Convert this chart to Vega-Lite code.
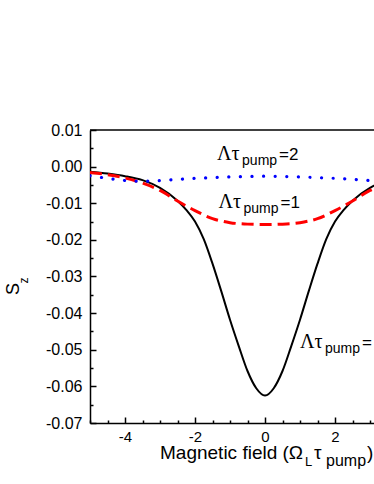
{
  "$schema": "https://vega.github.io/schema/vega-lite/v6.json",
  "width": 284,
  "height": 293,
  "autosize": {"type": "none"},
  "padding": {"left": 90, "top": 130, "right": 0, "bottom": 61},
  "background": "white",
  "config": {"view": {"stroke": null}, "font": "Liberation Sans"},
  "datasets": {
    "curves": [
      {"x": -5, "y": -0.0014, "s": "k"}, {"x": -4.5, "y": -0.0019, "s": "k"}, {"x": -4, "y": -0.0026, "s": "k"},
      {"x": -3.5, "y": -0.0037, "s": "k"}, {"x": -3, "y": -0.0058, "s": "k"}, {"x": -2.5, "y": -0.0093, "s": "k"},
      {"x": -2.25, "y": -0.0118, "s": "k"}, {"x": -2, "y": -0.015, "s": "k"}, {"x": -1.75, "y": -0.0198, "s": "k"},
      {"x": -1.5, "y": -0.0265, "s": "k"}, {"x": -1.25, "y": -0.034, "s": "k"}, {"x": -1, "y": -0.0418, "s": "k"},
      {"x": -0.75, "y": -0.049, "s": "k"}, {"x": -0.5, "y": -0.0558, "s": "k"}, {"x": -0.25, "y": -0.0605, "s": "k"},
      {"x": 0, "y": -0.0625, "s": "k"}, {"x": 0.25, "y": -0.0605, "s": "k"}, {"x": 0.5, "y": -0.0558, "s": "k"},
      {"x": 0.75, "y": -0.049, "s": "k"}, {"x": 1, "y": -0.0418, "s": "k"}, {"x": 1.25, "y": -0.034, "s": "k"},
      {"x": 1.5, "y": -0.0265, "s": "k"}, {"x": 1.75, "y": -0.0198, "s": "k"}, {"x": 2, "y": -0.015, "s": "k"},
      {"x": 2.25, "y": -0.0118, "s": "k"}, {"x": 2.5, "y": -0.0093, "s": "k"}, {"x": 3, "y": -0.0058, "s": "k"},
      {"x": 3.5, "y": -0.0037, "s": "k"}, {"x": 4, "y": -0.0026, "s": "k"}, {"x": 4.5, "y": -0.0019, "s": "k"},
      {"x": 5, "y": -0.0014, "s": "k"},
      {"x": -5, "y": -0.0016, "s": "r"}, {"x": -4.5, "y": -0.0022, "s": "r"}, {"x": -4, "y": -0.0031, "s": "r"},
      {"x": -3.5, "y": -0.0045, "s": "r"}, {"x": -3, "y": -0.0065, "s": "r"}, {"x": -2.5, "y": -0.0094, "s": "r"},
      {"x": -2, "y": -0.012, "s": "r"}, {"x": -1.5, "y": -0.0142, "s": "r"}, {"x": -1, "y": -0.0153, "s": "r"},
      {"x": -0.5, "y": -0.0157, "s": "r"}, {"x": 0, "y": -0.0158, "s": "r"}, {"x": 0.5, "y": -0.0157, "s": "r"},
      {"x": 1, "y": -0.0153, "s": "r"}, {"x": 1.5, "y": -0.0142, "s": "r"}, {"x": 2, "y": -0.012, "s": "r"},
      {"x": 2.5, "y": -0.0094, "s": "r"}, {"x": 3, "y": -0.0065, "s": "r"}, {"x": 3.5, "y": -0.0045, "s": "r"},
      {"x": 4, "y": -0.0031, "s": "r"},
      {"x": -5, "y": -0.0025, "s": "b"}, {"x": -4.5, "y": -0.0032, "s": "b"}, {"x": -4, "y": -0.0038, "s": "b"},
      {"x": -3.5, "y": -0.004, "s": "b"}, {"x": -3, "y": -0.0038, "s": "b"}, {"x": -2.5, "y": -0.0035, "s": "b"},
      {"x": -2, "y": -0.0032, "s": "b"}, {"x": -1.5, "y": -0.003, "s": "b"}, {"x": -1, "y": -0.0028, "s": "b"},
      {"x": -0.5, "y": -0.0027, "s": "b"}, {"x": 0, "y": -0.0026, "s": "b"}, {"x": 0.5, "y": -0.0027, "s": "b"},
      {"x": 1, "y": -0.0028, "s": "b"}, {"x": 1.5, "y": -0.003, "s": "b"}, {"x": 2, "y": -0.0032, "s": "b"},
      {"x": 2.5, "y": -0.0035, "s": "b"}, {"x": 3, "y": -0.0038, "s": "b"}, {"x": 3.5, "y": -0.004, "s": "b"},
      {"x": 4, "y": -0.0038, "s": "b"}
    ],
    "labels": [
      {"x": -1.37, "y": 0.0018, "eq": "=2"},
      {"x": -1.33, "y": -0.0113, "eq": "=1"},
      {"x": 1.0, "y": -0.0494, "eq": "="}
    ]
  },
  "layer": [
    {
      "data": {"name": "curves"},
      "transform": [{"filter": "datum.s == 'k'"}],
      "mark": {"type": "line", "color": "black", "strokeWidth": 2, "interpolate": "monotone", "clip": true},
      "encoding": {
        "x": {"field": "x", "type": "quantitative",
          "scale": {"domain": [-5, 3.114], "nice": false, "zero": false},
          "axis": {
            "values": [-5, -4.5, -4, -3.5, -3, -2.5, -2, -1.5, -1, -0.5, 0, 0.5, 1, 1.5, 2, 2.5, 3],
            "tickCount": 200,
            "labelExpr": "(abs(datum.value % 2) < 0.001) ? ('' + datum.value) : ''",
            "tickSize": -6,
            "tickDash": {"condition": {"test": "abs(datum.value % 2) < 0.001", "value": [6, 0]}, "value": [3, 10]},
            "tickColor": "black", "tickWidth": 1.5, "domainColor": "black", "domainWidth": 1.5,
            "labelFontSize": 15, "labelColor": "black", "labelPadding": 12, "labelFont": "Liberation Sans",
            "labelOverlap": false, "grid": false, "title": null, "labelFlush": false
          }},
        "y": {"field": "y", "type": "quantitative",
          "scale": {"domain": [-0.07, 0.01], "nice": false, "zero": false},
          "axis": {
            "values": [0.01, 0.005, 0, -0.005, -0.01, -0.015, -0.02, -0.025, -0.03, -0.035, -0.04, -0.045, -0.05, -0.055, -0.06, -0.065, -0.07],
            "tickCount": 200,
            "labelExpr": "(abs(round(datum.value * 1000)) % 10 == 0) ? ((datum.value < -0.0001 ? '-' : '') + format(abs(datum.value), '.2f')) : ''",
            "tickSize": -6,
            "tickDash": {"condition": {"test": "abs(round(datum.value * 1000)) % 10 == 0", "value": [6, 0]}, "value": [3, 10]},
            "tickColor": "black", "tickWidth": 1.5, "domainColor": "black", "domainWidth": 1.5,
            "labelFontSize": 16, "labelColor": "black", "labelPadding": 14, "labelFont": "Liberation Sans",
            "labelOverlap": false, "grid": false, "title": null, "labelFlush": false
          }}
      }
    },
    {
      "data": {"name": "curves"},
      "transform": [{"filter": "datum.s == 'r'"}],
      "mark": {"type": "line", "color": "#ff0000", "strokeWidth": 3, "strokeDash": [12, 6], "interpolate": "monotone", "clip": true},
      "encoding": {"x": {"field": "x", "type": "quantitative"}, "y": {"field": "y", "type": "quantitative"}}
    },
    {
      "data": {"name": "curves"},
      "transform": [{"filter": "datum.s == 'b'"}],
      "mark": {"type": "line", "color": "#0000ff", "strokeWidth": 3.2, "strokeDash": [0.1, 11.5], "strokeCap": "round", "interpolate": "monotone", "clip": true},
      "encoding": {"x": {"field": "x", "type": "quantitative"}, "y": {"field": "y", "type": "quantitative"}}
    },
    {
      "data": {"values": [{"top": 0.01}]},
      "mark": {"type": "rule", "color": "black", "strokeWidth": 1.5},
      "encoding": {"y": {"field": "top", "type": "quantitative"}}
    },
    {
      "data": {"name": "labels"},
      "mark": {"type": "text", "font": "Liberation Serif", "fontSize": 20, "align": "left", "baseline": "alphabetic", "color": "black"},
      "encoding": {"x": {"field": "x", "type": "quantitative"}, "y": {"field": "y", "type": "quantitative"}, "text": {"value": "Λτ"}}
    },
    {
      "data": {"name": "labels"},
      "mark": {"type": "text", "font": "Liberation Sans", "fontSize": 14, "align": "left", "baseline": "alphabetic", "dx": 25, "dy": 5, "color": "black"},
      "encoding": {"x": {"field": "x", "type": "quantitative"}, "y": {"field": "y", "type": "quantitative"}, "text": {"value": "pump"}}
    },
    {
      "data": {"name": "labels"},
      "mark": {"type": "text", "font": "Liberation Sans", "fontSize": 17, "align": "left", "baseline": "alphabetic", "dx": 62, "color": "black"},
      "encoding": {"x": {"field": "x", "type": "quantitative"}, "y": {"field": "y", "type": "quantitative"}, "text": {"field": "eq"}}
    },
    {
      "data": {"values": [{"x": -3.0, "y": -0.0797, "t": "Magnetic field (Ω"}]},
      "mark": {"type": "text", "fontSize": 19, "align": "left", "baseline": "alphabetic", "color": "black"},
      "encoding": {"x": {"field": "x", "type": "quantitative"}, "y": {"field": "y", "type": "quantitative"}, "text": {"field": "t"}}
    },
    {
      "data": {"values": [{"x": -3.0, "y": -0.0797, "t": "L"}]},
      "mark": {"type": "text", "fontSize": 13, "align": "left", "baseline": "alphabetic", "dx": 145, "dy": 7, "color": "black"},
      "encoding": {"x": {"field": "x", "type": "quantitative"}, "y": {"field": "y", "type": "quantitative"}, "text": {"field": "t"}}
    },
    {
      "data": {"values": [{"x": -3.0, "y": -0.0797, "t": "τ"}]},
      "mark": {"type": "text", "fontSize": 19, "align": "left", "baseline": "alphabetic", "dx": 154, "color": "black"},
      "encoding": {"x": {"field": "x", "type": "quantitative"}, "y": {"field": "y", "type": "quantitative"}, "text": {"field": "t"}}
    },
    {
      "data": {"values": [{"x": -3.0, "y": -0.0797, "t": "pump"}]},
      "mark": {"type": "text", "fontSize": 16, "align": "left", "baseline": "alphabetic", "dx": 166, "dy": 7, "color": "black"},
      "encoding": {"x": {"field": "x", "type": "quantitative"}, "y": {"field": "y", "type": "quantitative"}, "text": {"field": "t"}}
    },
    {
      "data": {"values": [{"x": -3.0, "y": -0.0797, "t": ")"}]},
      "mark": {"type": "text", "fontSize": 19, "align": "left", "baseline": "alphabetic", "dx": 207, "color": "black"},
      "encoding": {"x": {"field": "x", "type": "quantitative"}, "y": {"field": "y", "type": "quantitative"}, "text": {"field": "t"}}
    },
    {
      "data": {"values": [{"x": -7.04, "y": -0.0334, "t": "S"}]},
      "mark": {"type": "text", "fontSize": 18, "angle": 270, "align": "center", "baseline": "alphabetic", "color": "black"},
      "encoding": {"x": {"field": "x", "type": "quantitative"}, "y": {"field": "y", "type": "quantitative"}, "text": {"field": "t"}}
    },
    {
      "data": {"values": [{"x": -6.77, "y": -0.0319, "t": "z"}]},
      "mark": {"type": "text", "fontSize": 12, "angle": 270, "align": "left", "baseline": "alphabetic", "color": "black"},
      "encoding": {"x": {"field": "x", "type": "quantitative"}, "y": {"field": "y", "type": "quantitative"}, "text": {"field": "t"}}
    }
  ]
}
